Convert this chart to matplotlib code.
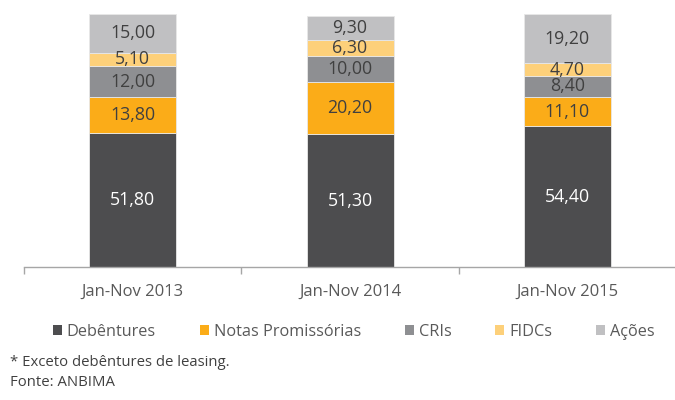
import matplotlib
matplotlib.use("Agg")
import matplotlib.pyplot as plt
import numpy as np

categories = ["Jan-Nov 2013", "Jan-Nov 2014", "Jan-Nov 2015"]
series_names = ["Debêntures", "Notas Promissórias", "CRIs", "FIDCs", "Ações"]
debentures = [51.8, 51.3, 54.4]
notas = [13.8, 20.2, 11.1]
cris = [12.0, 10.0, 8.4]
fidcs = [5.1, 6.3, 4.7]
acoes = [15.0, 9.3, 19.2]
series_values = [debentures, notas, cris, fidcs, acoes]
colors = ["#4D4D4F", "#FBAC18", "#8E8F92", "#FDD07A", "#C0C0C2"]
label_colors = ["white", "#404040", "#404040", "#404040", "#404040"]
footnotes = ["* Exceto debêntures de leasing.", "Fonte: ANBIMA"]

plt.rcParams['font.family'] = ['Open Sans', 'DejaVu Sans']

fig = plt.figure(figsize=(6.75, 4.0), dpi=100)
ax = fig.add_axes([0.0356, 0.3325, 0.966, 0.6475])

x = np.arange(len(categories))
bottom = np.zeros(len(categories))
handles = []
for name, vals, col, lc in zip(series_names, series_values, colors, label_colors):
    vals = np.array(vals)
    bars = ax.bar(x, vals, width=0.4, bottom=bottom, color=col,
                  edgecolor="#E8E8E8", linewidth=0.6, label=name)
    handles.append(bars)
    for xi, b, v in zip(x, bottom, vals):
        ax.text(xi, b + v / 2, f"{v:.2f}".replace(".", ","), ha="center",
                va="center", color=lc, fontsize=12.8)
    bottom += vals

ax.set_xlim(-0.5, 2.5)
ax.set_ylim(0, 100)
for s in ["left", "right", "top"]:
    ax.spines[s].set_visible(False)
ax.spines["bottom"].set_color("#A6A6A6")
ax.spines["bottom"].set_linewidth(1.0)
ax.set_yticks([])
ax.set_xticks(x)
ax.set_xticklabels(categories, fontsize=12, color="#595959")
ax.tick_params(axis="x", which="major", length=0, pad=12)
ax.set_xticks([-0.5, 0.5, 1.5, 2.5], minor=True)
ax.tick_params(axis="x", which="minor", length=5, color="#A6A6A6", width=1.0)

leg = fig.legend(handles=handles, labels=series_names, loc="center",
                 bbox_to_anchor=(0.524, 1 - 332 / 400), ncol=5, frameon=False,
                 fontsize=11.7, handlelength=0.55, handleheight=0.55,
                 handletextpad=0.3, columnspacing=2.7, labelcolor="#595959")
for h in leg.legend_handles:
    h.set_edgecolor("none")

fig.text(10 / 675, 1 - 363 / 400, footnotes[0], fontsize=10.7, color="#404040",
         ha="left", va="center")
fig.text(10 / 675, 1 - 383 / 400, footnotes[1], fontsize=10.7, color="#404040",
         ha="left", va="center")

fig.savefig("out.png", dpi=100)
